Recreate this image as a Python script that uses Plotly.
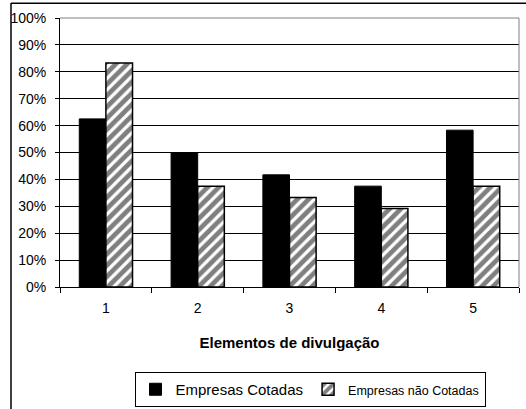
import plotly.graph_objects as go

categories = [1, 2, 3, 4, 5]
cat_labels = ["1", "2", "3", "4", "5"]
cotadas = [0.625, 0.50, 0.417, 0.375, 0.583]
nao_cotadas = [0.833, 0.375, 0.333, 0.292, 0.375]
y_ticks = [i / 10 for i in range(11)]
y_labels = [f"{i*10}%" for i in range(11)]

FONT = "Liberation Sans, Arial, sans-serif"

fig = go.Figure()
fig.add_trace(go.Bar(
    x=categories, y=cotadas, name="Empresas Cotadas",
    marker=dict(color="black", line=dict(color="black", width=1)),
))
fig.add_trace(go.Bar(
    x=categories, y=nao_cotadas,
    name="<span style='font-size:12.5px'>Empresas não Cotadas</span>",
    marker=dict(color="white", line=dict(color="black", width=1.5),
                pattern=dict(shape="/", fgcolor="black", bgcolor="white",
                             size=8, solidity=0.6)),
))

W, H = 526, 409
L, R, T, B = 60, 7, 18, 122
pw, ph = W - L - R, H - T - B

def px(x):
    return (x - L) / pw

def py(y):
    return (H - B - y) / ph

fig.update_layout(
    width=W, height=H,
    margin=dict(l=L, r=R, t=T, b=B, autoexpand=False),
    paper_bgcolor="white", plot_bgcolor="white",
    font=dict(family=FONT, color="black", size=14),
    barmode="group", bargap=0.42, bargroupgap=0,
    showlegend=True,
    legend=dict(orientation="h", x=px(310), xanchor="center", y=py(372), yanchor="top",
                bordercolor="black", borderwidth=1, font=dict(size=15),
                itemwidth=30, tracegroupgap=0),
    xaxis=dict(range=[0.5, 5.5], tickvals=categories, ticktext=cat_labels, ticks="",
               showline=True, linecolor="black", linewidth=1, showgrid=False, zeroline=False,
               tickfont=dict(size=14), ticklabelstandoff=8,
               minor=dict(tickvals=[0.5, 1.5, 2.5, 3.5, 4.5, 5.5], ticks="outside",
                          ticklen=5, tickcolor="black", showgrid=False),
               title=dict(text="<b>Elementos de divulgação</b>", font=dict(size=15), standoff=22)),
    yaxis=dict(range=[0, 1], tickvals=y_ticks, ticktext=y_labels, ticks="outside",
               ticklen=4, tickcolor="black", showline=True, linecolor="black", linewidth=1,
               showgrid=True, gridcolor="black", gridwidth=1, zeroline=False,
               tickfont=dict(size=14), ticklabelstandoff=6),
    shapes=[
        dict(type="line", xref="paper", yref="paper", x0=0, x1=1, y0=1, y1=1,
             line=dict(color="#808080", width=1)),
        dict(type="line", xref="paper", yref="paper", x0=1, x1=1, y0=0, y1=1,
             line=dict(color="#808080", width=1)),
        dict(type="line", xref="paper", yref="paper", x0=px(11), x1=px(11),
             y0=py(420), y1=py(3), line=dict(color="black", width=1.5)),
        dict(type="rect", xref="paper", yref="paper", x0=px(11), x1=px(540),
             y0=py(4), y1=py(2.5), fillcolor="black", line=dict(width=0)),
    ],
)

fig.write_html("out.html", config={"displayModeBar": False},
               post_script="document.body.style.margin='0';")
